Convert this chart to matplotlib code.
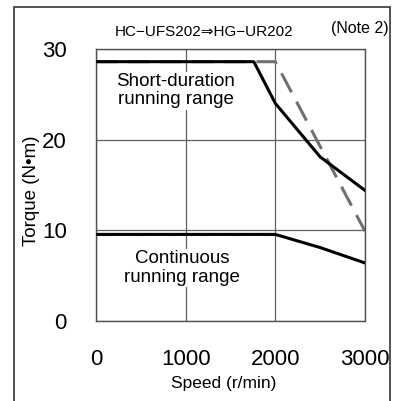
import matplotlib.pyplot as plt
from matplotlib.patches import Rectangle

plt.rcParams['font.family'] = ['Liberation Sans', 'DejaVu Sans']

# HG-UR202 (solid) short-duration and continuous torque curves
speed_short = [0, 1760, 2000, 2500, 3000]
torque_short = [28.6, 28.6, 24.0, 18.1, 14.4]
speed_cont = [0, 2000, 2500, 3000]
torque_cont = [9.55, 9.55, 8.1, 6.4]

# HC-UFS202 (dashed)
speed_old_short = [0, 2000, 3000]
torque_old_short = [28.6, 28.6, 9.9]
speed_old_cont = [0, 2000]
torque_old_cont = [9.55, 9.55]

xticks = [0, 1000, 2000, 3000]
yticks = [0, 10, 20, 30]

fig = plt.figure(figsize=(3.93, 4.01), dpi=100)
ax = fig.add_axes([0.2443, 0.1995, 0.6845, 0.6783])

ax.plot(speed_old_short, torque_old_short, color='#707070', lw=2.2,
        dashes=(7, 3.5), zorder=2)
ax.plot(speed_old_cont, torque_old_cont, color='#707070', lw=2.2,
        dashes=(7, 3.5), zorder=2)
ax.plot(speed_short, torque_short, color='black', lw=2.2, zorder=3)
ax.plot(speed_cont, torque_cont, color='black', lw=2.2, zorder=3)

ax.set_xlim(0, 3000)
ax.set_ylim(0, 30)
ax.set_xticks(xticks)
ax.set_yticks(yticks)
ax.grid(True, color='#606060', lw=0.9)
ax.tick_params(length=0, labelsize=16)
ax.tick_params(axis='x', pad=20)
ax.tick_params(axis='y', pad=21)
for s in ax.spines.values():
    s.set_color('#505050')
    s.set_linewidth(1.0)

ax.set_xlabel('Speed (r/min)', fontsize=12.5, va='center')
ax.set_ylabel('Torque (N•m)', fontsize=13.5, va='center')
ax.xaxis.set_label_coords(0.476, -0.228)
ax.yaxis.set_label_coords(-0.238, 0.48)

ax.text(886, 25.4, 'Short-duration\nrunning range', ha='center', va='center',
        fontsize=13.5, linespacing=1.1,
        bbox=dict(facecolor='white', edgecolor='none', pad=1))
ax.text(959, 5.85, 'Continuous\nrunning range', ha='center', va='center',
        fontsize=13.5, linespacing=1.1,
        bbox=dict(facecolor='white', edgecolor='none', pad=1))

fig.text(0.52, 0.920, 'HC−UFS202⇒HG−UR202', ha='center', va='center', fontsize=11)
fig.text(0.916, 0.93, '(Note 2)', ha='center', va='center', fontsize=11.5)

fig.patches.append(Rectangle((14 / 393, -0.1), (390 - 14) / 393, 1.1 - 7 / 401,
                             transform=fig.transFigure, fill=False,
                             edgecolor='#333333', lw=1.2))

fig.savefig('out.png', dpi=100)
